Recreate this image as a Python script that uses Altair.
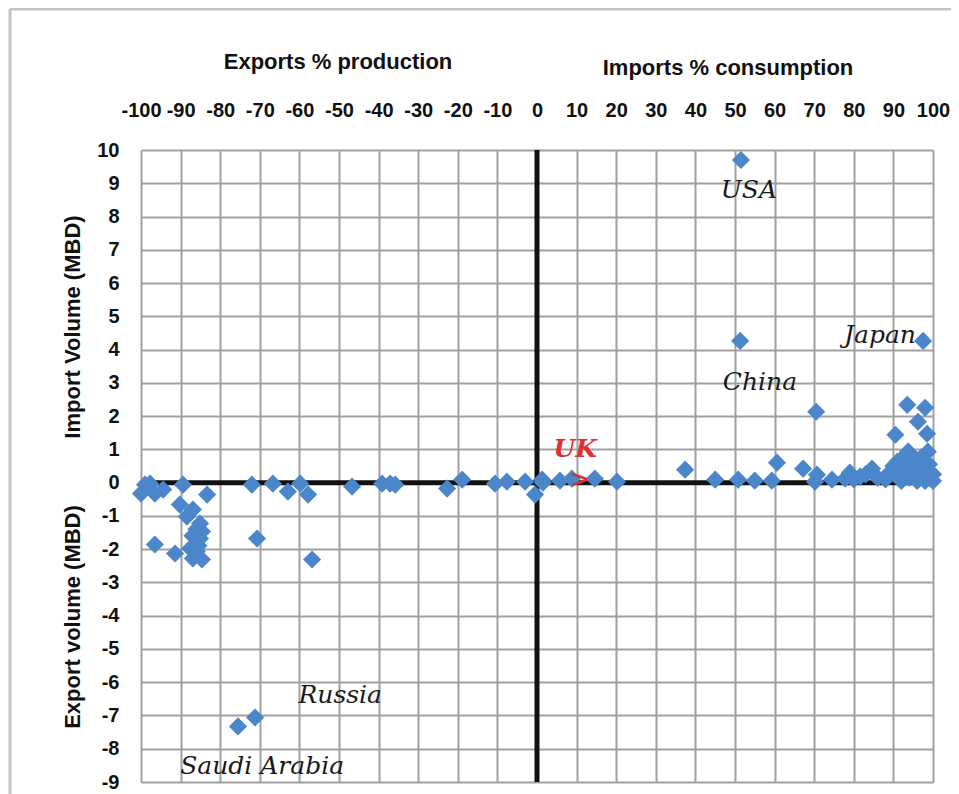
import altair as alt
import pandas as pd

# Trade share (x, % ; negative = exports % production, positive = imports % consumption)
# and volume (y, MBD ; negative = export volume, positive = import volume)
x_vals = [
    -100, -99, -97.7, -96.5, -94.4, -89.4, -83.3, -90.2, -88.4, -86.9, -85.1, -84.6,
    -85.1, -96.5, -91.4, -87.6, -85.9, -84.6, -86.9, -86.0, -85.5, -87.0, -70.7, -72.0,
    -66.7, -62.9, -59.8, -57.8, -56.8, -75.5, -71.2, -46.7, -39.1, -37.1, -35.8, -22.7,
    -18.9, -10.6, -7.6, -3.0, -0.5,
    1.5, 1.3, 5.8, 8.8, 14.6, 20.2, 37.4, 45.0, 50.8, 55.0, 59.3, 60.6, 67.2, 70.7,
    70.2, 74.5, 77.8, 81.6, 84.6, 51.5, 51.3, 97.5, 70.5, 93.5, 98.0, 96.2, 90.5, 98.5,
    93.7, 98.7, 91.0, 98.0,
    88, 89, 90, 91, 92, 92, 93, 94, 94, 95, 95, 96, 96, 97, 97, 98, 98, 99, 99, 100,
    100, 86, 83, 80, 79,
]
y_vals = [
    -0.33, -0.06, -0.03, -0.33, -0.21, -0.06, -0.36, -0.66, -1.02, -0.81, -1.23, -1.47,
    -1.68, -1.86, -2.13, -1.98, -2.07, -2.31, -2.28, -1.40, -1.90, -1.60, -1.68, -0.06,
    -0.03, -0.27, -0.03, -0.36, -2.31, -7.33, -7.06, -0.12, -0.03, -0.03, -0.06, -0.18,
    0.09, -0.03, 0.03, 0.03, -0.36,
    0.0, 0.09, 0.06, 0.12, 0.12, 0.03, 0.39, 0.09, 0.09, 0.06, 0.06, 0.60, 0.42, 0.24,
    0.03, 0.09, 0.12, 0.18, 0.42, 9.70, 4.26, 4.26, 2.13, 2.34, 2.25, 1.83, 1.44, 1.47,
    0.93, 0.93, 0.63, 0.63,
    0.10, 0.30, 0.50, 0.20, 0.70, 0.05, 0.40, 0.15, 0.90, 0.60, 0.30, 0.05, 0.45, 0.20,
    0.75, 0.35, 0.05, 0.15, 0.55, 0.05, 0.25, 0.15, 0.25, 0.10, 0.30,
]

uk_x = [10.9]
uk_y = [0.09]

label_names = ["USA", "China", "Japan", "Russia", "Saudi Arabia"]
label_x = [53.5, 56.3, 86.6, -49.7, -69.4]
label_y = [8.8, 3.03, 4.44, -6.37, -8.53]

x_ticks = list(range(-100, 101, 10))
y_ticks = list(range(-9, 11))

pts = pd.DataFrame({"x": x_vals, "y": y_vals})
uk = pd.DataFrame({"x": uk_x, "y": uk_y})
labels = pd.DataFrame({"name": label_names, "x": label_x, "y": label_y})

W, H = 792, 632
xs = alt.Scale(domain=[-100, 100], nice=False, zero=False)
ys = alt.Scale(domain=[-9, 10], nice=False, zero=False)

x_axis = alt.Axis(
    orient="top", values=x_ticks, title=None, grid=True, gridColor="#a0a0a0",
    gridWidth=2, gridOpacity=1, domain=False, ticks=False, labelPadding=30,
    labelFont="Liberation Sans", labelFontWeight="bold", labelFontSize=20,
    labelColor="#111111", labelOverlap=False, labelFlush=False,
    labelExpr="'' + datum.value",
)
y_axis = alt.Axis(
    values=y_ticks, title=None, grid=True, gridColor="#a0a0a0", gridWidth=2,
    gridOpacity=1, domain=False, ticks=False, labelPadding=22,
    labelFont="Liberation Sans", labelFontWeight="bold", labelFontSize=20,
    labelColor="#111111", labelOverlap=False, labelFlush=False,
    labelExpr="'' + datum.value",
)

X = alt.X("x:Q", scale=xs, axis=x_axis)
Y = alt.Y("y:Q", scale=ys, axis=y_axis)

points = alt.Chart(pts).mark_point(
    shape="diamond", filled=True, size=330, color="#4c86ca", opacity=1
).encode(x=X, y=Y)

zero_df = pd.DataFrame({"x": [0], "y": [0]})
vline = alt.Chart(zero_df).mark_rule(color="#111111", strokeWidth=5).encode(x=X)
hline = alt.Chart(zero_df).mark_rule(color="#111111", strokeWidth=5).encode(y=Y)

uk_mark = alt.Chart(uk).mark_text(
    text=">", color="#e03030", font="DejaVu Serif", fontSize=24,
    fontWeight="bold", fontStyle="italic",
).encode(x=X, y=Y)

uk_label = alt.Chart(uk).mark_text(
    text="UK", color="#e03030", font="DejaVu Serif", fontSize=25,
    fontWeight="bold", fontStyle="italic", dx=-5, dy=-31,
).encode(x=X, y=Y)

name_text = alt.Chart(labels).mark_text(
    font="DejaVu Serif", fontSize=25, fontStyle="italic", color="#1a1a1a"
).encode(x=X, y=Y, text="name:N")


def title_text(txt, px, py, angle=0):
    return alt.Chart(pd.DataFrame({"t": [txt]})).mark_text(
        font="Liberation Sans", fontWeight="bold", fontSize=22, color="#111111",
        angle=angle, align="center", baseline="middle",
    ).encode(x=alt.value(px), y=alt.value(py), text="t:N")


t1 = title_text("Exports % production", 197, -88)
t2 = title_text("Imports % consumption", 587, -82)
t3 = title_text("Import Volume (MBD)", -68, 177, angle=270)
t4 = title_text("Export volume (MBD)", -68, 467, angle=270)

frame_df = pd.DataFrame({"k": [0]})
frame_top = alt.Chart(frame_df).mark_rule(color="#c4c4c4", strokeWidth=3).encode(
    x=alt.value(-131), x2=alt.value(W + 20), y=alt.value(-141)
)
frame_left = alt.Chart(frame_df).mark_rule(color="#c4c4c4", strokeWidth=3).encode(
    x=alt.value(-131), y=alt.value(-141), y2=alt.value(H + 14)
)

chart = alt.layer(
    vline, hline, points, uk_mark, uk_label, name_text, t1, t2, t3, t4,
    frame_top, frame_left,
).properties(
    width=W, height=H,
    autosize=alt.AutoSizeParams(type="none"),
    padding={"left": 133, "top": 142, "right": 18, "bottom": 14},
).configure_view(stroke="#a0a0a0", strokeWidth=2).configure(background="white")

chart.save("out.html", embed_options={"renderer": "svg", "actions": False})
